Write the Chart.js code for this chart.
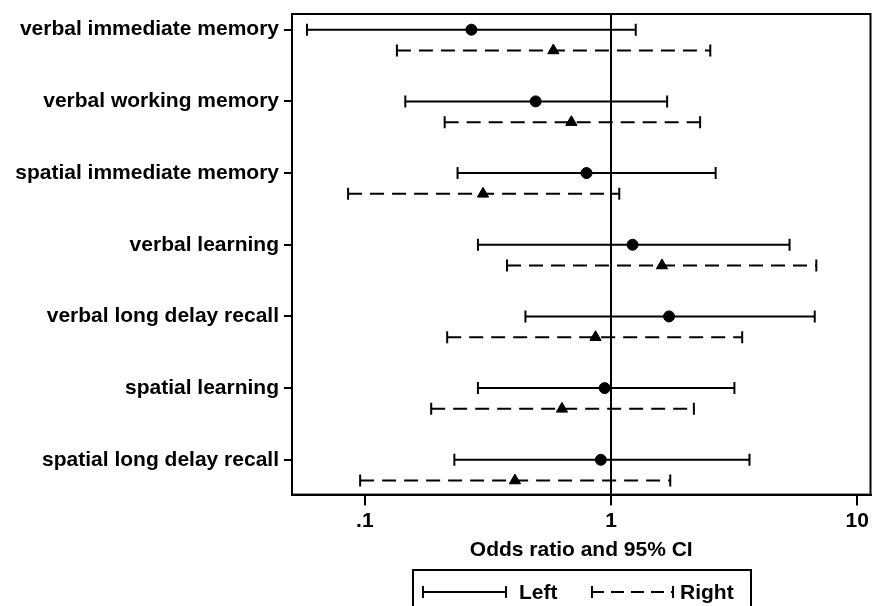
<!DOCTYPE html>
<html>
<head>
<meta charset="utf-8">
<script src="https://cdn.jsdelivr.net/npm/chart.js@4.4.0/dist/chart.umd.min.js"></script>
<style>
    html, body { margin: 0; padding: 0; background: #fff; }
    #wrap { position: relative; width: 872px; height: 606px; overflow: hidden; }
    #legend {
        position: absolute; left: 412px; top: 569px; width: 340px; height: 52px;
        border: 2px solid #000; box-sizing: border-box;
        font: bold 21px "Liberation Sans", Arial, sans-serif; color: #000;
    }
    .legend-item { position: absolute; top: 9px; display: flex; align-items: center; height: 24px; }
    .swatch { position: relative; width: 85px; height: 0; border-top: 2px solid #000; }
    .swatch.dashed { border-top: none; height: 2px;
        background: repeating-linear-gradient(90deg, #000 0 13px, transparent 13px 20px); width: 83px; }
    .swatch::before, .swatch::after {
        content: ''; position: absolute; top: -7px; width: 2px; height: 12px; background: #000;
    }
    .swatch.dashed::before, .swatch.dashed::after { top: -5px; }
    .swatch::before { left: 0; }
    .swatch::after { right: 0; }
</style>
</head>
<body>
<div id="wrap">
    <canvas id="chart" width="872" height="606"></canvas>
    <div id="legend"></div>
</div>
<script>
const categories = [
    'verbal immediate memory',
    'verbal working memory',
    'spatial immediate memory',
    'verbal learning',
    'verbal long delay recall',
    'spatial learning',
    'spatial long delay recall',
];
const seriesNames = ['Left', 'Right'];

const leftOR = [0.271, 0.494, 0.795, 1.223, 1.72, 0.942, 0.909];
const leftLower = [0.0582, 0.146, 0.238, 0.288, 0.449, 0.288, 0.231];
const leftUpper = [1.26, 1.69, 2.66, 5.31, 6.72, 3.17, 3.65];

const rightOR = [0.583, 0.690, 0.302, 1.61, 0.865, 0.632, 0.407];
const rightLower = [0.135, 0.211, 0.0855, 0.378, 0.216, 0.186, 0.0957];
const rightUpper = [2.53, 2.30, 1.08, 6.82, 3.41, 2.17, 1.74];

const xTicks = [0.1, 1, 10];

const font = { family: '"Liberation Sans", Arial, sans-serif', size: 21, weight: 'bold' };
const rightOffset = 0.29;

function ciDatasets(lower, upper, offset, dash) {
    return lower.map((lo, i) => ({
        type: 'line',
        data: [{ x: lo, y: i + offset }, { x: upper[i], y: i + offset }],
        borderColor: '#000',
        borderWidth: 2,
        borderDash: dash,
        pointStyle: 'line',
        rotation: 90,
        pointRadius: 6,
        pointBorderWidth: 2,
        pointBorderColor: '#000',
        order: 2,
    }));
}

const datasets = [
    {
        type: 'scatter',
        label: seriesNames[0],
        data: leftOR.map((v, i) => ({ x: v, y: i })),
        pointStyle: 'circle',
        pointRadius: 5.5,
        backgroundColor: '#000',
        borderColor: '#000',
        order: 1,
    },
    {
        type: 'scatter',
        label: seriesNames[1],
        data: rightOR.map((v, i) => ({ x: v, y: i + rightOffset })),
        pointStyle: 'triangle',
        pointRadius: 6.5,
        backgroundColor: '#000',
        borderColor: '#000',
        order: 1,
    },
    ...ciDatasets(leftLower, leftUpper, 0, []),
    ...ciDatasets(rightLower, rightUpper, rightOffset, [14, 8]),
];

const framePlugin = {
    id: 'frame',
    beforeDatasetsDraw(chart) {
        const { ctx, chartArea: a, scales: { x } } = chart;
        ctx.save();
        ctx.strokeStyle = '#000';
        ctx.lineWidth = 2;
        ctx.strokeRect(a.left, a.top, a.right - a.left, a.bottom - a.top);
        const x1 = Math.round(x.getPixelForValue(1));
        ctx.beginPath();
        ctx.moveTo(x1, a.top);
        ctx.lineTo(x1, a.bottom);
        ctx.stroke();
        ctx.restore();
    },
};

new Chart(document.getElementById('chart'), {
    data: { datasets },
    plugins: [framePlugin],
    options: {
        responsive: false,
        animation: false,
        devicePixelRatio: 1,
        layout: { autoPadding: false, padding: { top: 14, right: 1.5, bottom: 43, left: 0 } },
        plugins: { legend: { display: false }, tooltip: { enabled: false } },
        scales: {
            x: {
                type: 'logarithmic',
                min: 0.0506,
                max: 11.32,
                afterBuildTicks: (scale) => { scale.ticks = xTicks.map(v => ({ value: v })); },
                afterFit: (scale) => { scale.paddingLeft = 0; scale.paddingRight = 0; },
                ticks: {
                    color: '#000', font, padding: 3, maxRotation: 0, autoSkip: false,
                    callback: (v) => (v === 0.1 ? '.1' : String(v)),
                },
                grid: { drawOnChartArea: false, tickLength: 11, color: '#000', lineWidth: 2 },
                border: { display: true, color: '#000', width: 2 },
                title: { display: true, text: 'Odds ratio and 95% CI', color: '#000', font, padding: { top: 1, bottom: 0 } },
            },
            y: {
                type: 'linear',
                reverse: true,
                min: -0.219,
                max: 6.486,
                afterBuildTicks: (scale) => { scale.ticks = categories.map((_, i) => ({ value: i })); },
                afterFit: (scale) => { scale.width = 292; scale.paddingTop = 0; scale.paddingBottom = 0; },
                ticks: {
                    color: '#000', font, padding: 5, autoSkip: false,
                    callback: (v) => categories[v],
                },
                grid: { drawOnChartArea: false, tickLength: 8, color: '#000', lineWidth: 2 },
                border: { display: true, color: '#000', width: 2 },
            },
        },
    },
});

const legend = document.getElementById('legend');
const legendLeft = [8, 177];
seriesNames.forEach((name, i) => {
    const item = document.createElement('div');
    item.className = 'legend-item';
    item.style.left = legendLeft[i] + 'px';
    item.innerHTML = `<span class="swatch ${i === 1 ? 'dashed' : ''}"></span><span style="margin-left:${i === 1 ? 6 : 12}px">${name}</span>`;
    legend.appendChild(item);
});
</script>
</body>
</html>
